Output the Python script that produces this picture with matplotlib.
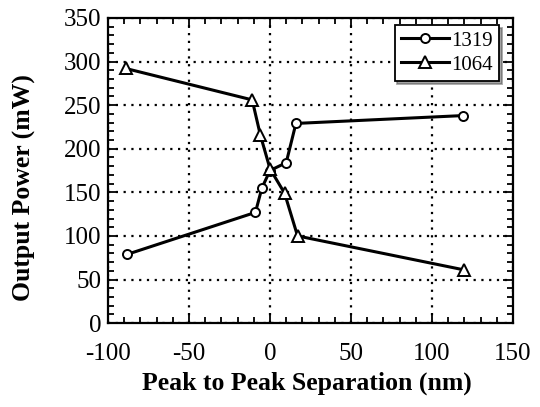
import matplotlib
matplotlib.use("Agg")
import matplotlib.pyplot as plt
from matplotlib.ticker import MultipleLocator

# dados
sep_1319 = [-88, -9, -5, 0, 10, 16, 119]
pot_1319 = [79, 127, 155, 175, 184, 229, 238]
sep_1064 = [-89, -11, -6, 0, 9, 17, 120]
pot_1064 = [292, 256, 216, 177, 149, 100, 61]

plt.rcParams["font.family"] = ["Liberation Serif", "DejaVu Serif"]
plt.rcParams["axes.unicode_minus"] = False

fig = plt.figure(figsize=(5.4, 4.07), dpi=100)
ax = fig.add_axes([0.2, 0.206, 0.75, 0.75])

ax.plot(sep_1319, pot_1319, "-o", color="black", lw=2.2,
        ms=6.5, mfc="white", mec="black", mew=1.4, label="1319")
ax.plot(sep_1064, pot_1064, "-^", color="black", lw=2.2,
        ms=8, mfc="white", mec="black", mew=1.4, label="1064")

ax.set_xlim(-100, 150)
ax.set_ylim(0, 350)
ax.xaxis.set_major_locator(MultipleLocator(50))
ax.xaxis.set_minor_locator(MultipleLocator(10))
ax.yaxis.set_major_locator(MultipleLocator(50))
ax.yaxis.set_minor_locator(MultipleLocator(10))
ax.tick_params(which="both", direction="in", top=True, right=True,
               labelsize=18, width=1.3)
ax.tick_params(which="major", length=7)
ax.tick_params(which="minor", length=4)
ax.tick_params(axis="y", which="major", pad=5)
ax.tick_params(axis="x", which="major", pad=14)
ax.grid(which="major", color="black", linestyle=(0, (1, 2.5)), lw=1.6)
for s in ax.spines.values():
    s.set_linewidth(1.6)

ax.set_xlabel("Peak to Peak Separation (nm)", fontsize=18.5,
              fontweight="bold")
ax.xaxis.set_label_coords(0.49, -0.16)
ax.xaxis.label.set_va("top")
ax.set_ylabel("Output Power (mW)", fontsize=18.5, fontweight="bold")
ax.yaxis.set_label_coords(-0.207, 0.443)
ax.yaxis.label.set_va("center")

leg = ax.legend(loc="upper right", bbox_to_anchor=(0.965, 0.977),
                fontsize=15, frameon=True, shadow=True,
                fancybox=False, handlelength=2.3, borderpad=0.3,
                labelspacing=0.2, handletextpad=0.1,
                borderaxespad=0)
leg.get_frame().set_edgecolor("black")
leg.get_frame().set_linewidth(1.3)

fig.savefig("out.png", dpi=100)
plt.close(fig)
